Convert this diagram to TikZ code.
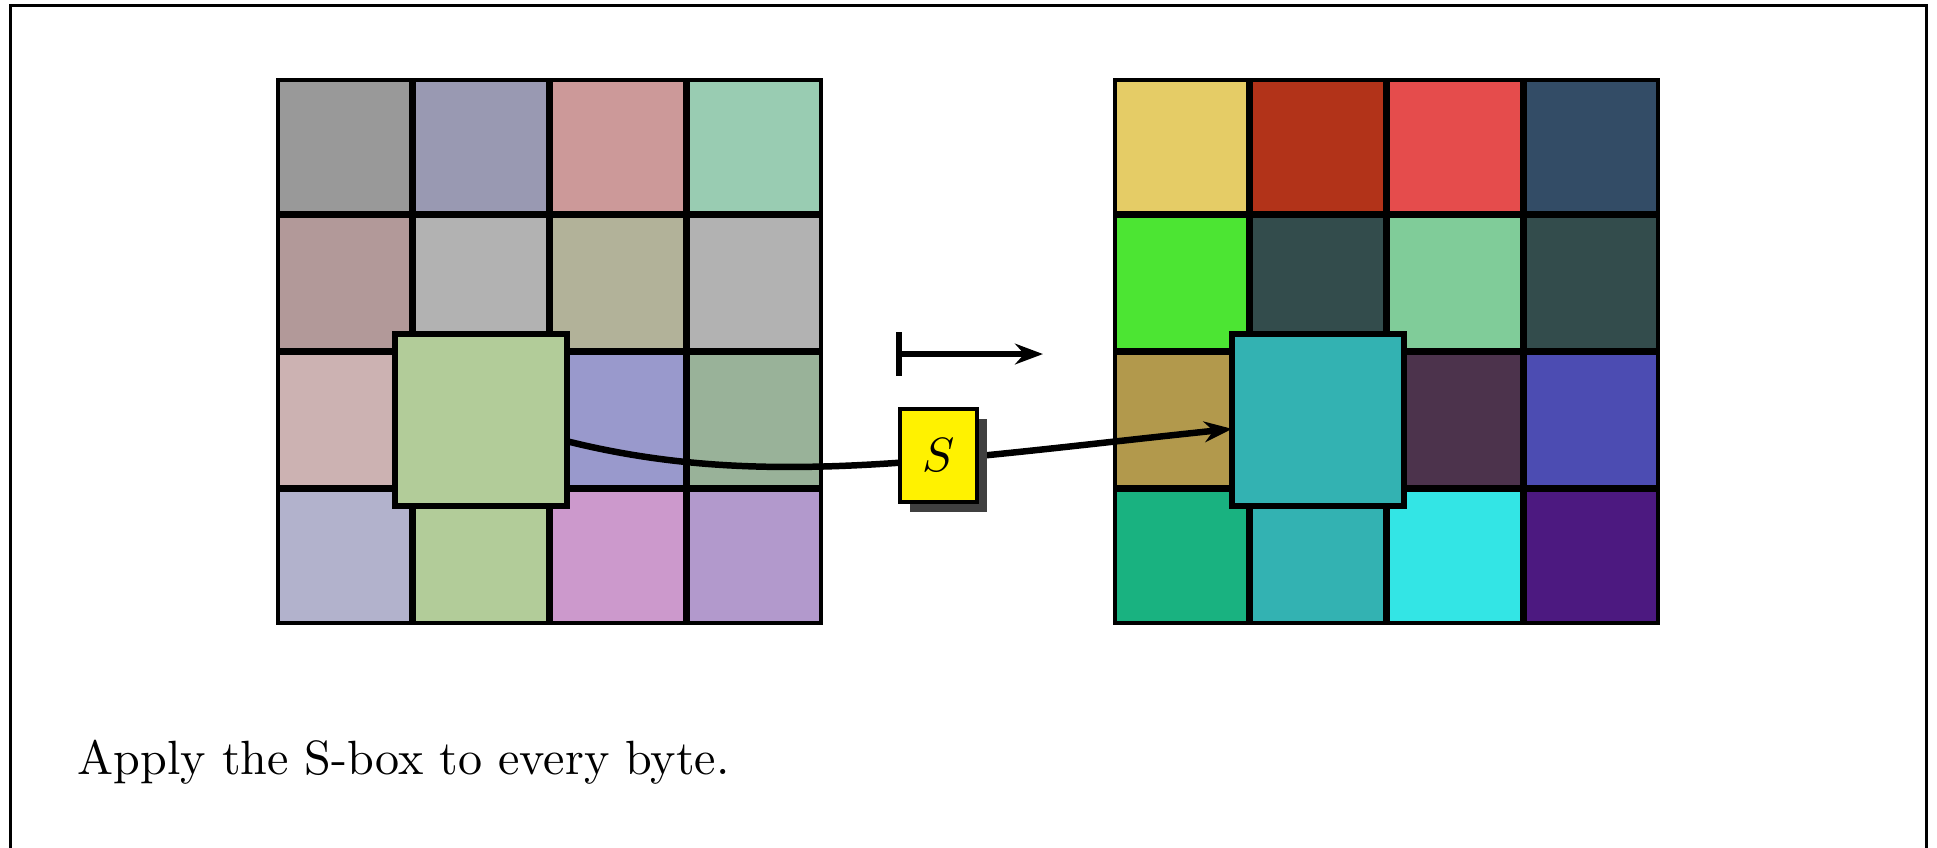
\documentclass[tikz,border=0pt]{standalone}
\usetikzlibrary{arrows.meta,shadows}
% left grid colours
\definecolor{L11}{rgb}{0.6,0.6,0.6}
\definecolor{L12}{rgb}{0.6,0.6,0.7}
\definecolor{L13}{rgb}{0.8,0.6,0.6}
\definecolor{L14}{rgb}{0.6,0.8,0.7}
\definecolor{L21}{rgb}{0.7,0.6,0.6}
\definecolor{L22}{rgb}{0.7,0.7,0.7}
\definecolor{L23}{rgb}{0.7,0.7,0.6}
\definecolor{L24}{rgb}{0.7,0.7,0.7}
\definecolor{L31}{rgb}{0.8,0.7,0.7}
\definecolor{L32}{rgb}{0.7,0.8,0.6}
\definecolor{L33}{rgb}{0.6,0.6,0.8}
\definecolor{L34}{rgb}{0.6,0.7,0.6}
\definecolor{L41}{rgb}{0.7,0.7,0.8}
\definecolor{L42}{rgb}{0.7,0.8,0.6}
\definecolor{L43}{rgb}{0.8,0.6,0.8}
\definecolor{L44}{rgb}{0.7,0.6,0.8}
% right grid colours
\definecolor{R11}{rgb}{0.9,0.8,0.4}
\definecolor{R12}{rgb}{0.7,0.2,0.1}
\definecolor{R13}{rgb}{0.9,0.3,0.3}
\definecolor{R14}{rgb}{0.2,0.3,0.4}
\definecolor{R21}{rgb}{0.3,0.9,0.2}
\definecolor{R22}{rgb}{0.2,0.3,0.3}
\definecolor{R23}{rgb}{0.5,0.8,0.6}
\definecolor{R24}{rgb}{0.2,0.3,0.3}
\definecolor{R31}{rgb}{0.7,0.6,0.3}
\definecolor{R32}{rgb}{0.2,0.7,0.7}
\definecolor{R33}{rgb}{0.3,0.2,0.3}
\definecolor{R34}{rgb}{0.3,0.3,0.7}
\definecolor{R41}{rgb}{0.1,0.7,0.5}
\definecolor{R42}{rgb}{0.2,0.7,0.7}
\definecolor{R43}{rgb}{0.2,0.9,0.9}
\definecolor{R44}{rgb}{0.3,0.1,0.5}
\definecolor{sboxyellow}{rgb}{1,0.95,0}
\tikzset{
  cell/.style={draw=black, line width=0.75pt, minimum size=1cm-0.75pt, inner sep=0pt, outer sep=0pt},
  hilite/.style={draw=black, line width=1.2pt, minimum size=1.3cm-1.2pt, inner sep=0pt, outer sep=0pt},
  sbox/.style={draw=black, line width=0.7pt, fill=sboxyellow, minimum width=0.565cm, minimum height=0.68cm, inner sep=0pt,
    drop shadow={shadow xshift=0.075cm, shadow yshift=-0.075cm, fill=black!75, opacity=1}},
  stip/.style={Stealth[length=5.8pt,width=4.3pt,inset=1.9pt]},
  conn/.style={line width=1.35pt, -{Stealth[length=5.8pt,width=4.3pt,inset=1.9pt]}},
  mapsarrow/.style={line width=1.35pt, {Bar[width=9pt]}-{Stealth[length=5.8pt,width=4.3pt,inset=1.9pt]}},
}
\begin{document}
\begin{tikzpicture}
\useasboundingbox (0,0) rectangle (14.165,6.201);
\draw[line width=0.65pt] (0.077,-0.5) rectangle (14.088,6.161);
\foreach \r in {1,...,4} {
  \foreach \c in {1,...,4} {
    \node[cell, fill=L\r\c] (L\r\c) at ({2.018+\c-0.5},{5.631-\r+0.5}) {};
    \node[cell, fill=R\r\c] (R\r\c) at ({8.139+\c-0.5},{5.631-\r+0.5}) {};
  }
}
\node[hilite, fill=L32] (hl) at (L32.center) {};
\node[hilite, fill=R32] (hr) at (R32.center) {};
\coordinate (ms) at (6.549,3.612);
\coordinate (me) at (7.627,3.612);
\draw[mapsarrow] (ms) -- (me);
\draw[conn] (hl.-14) .. controls +(-14:1.4625) and +(186:2.194) .. (hr.186);
\node[sbox] (S) at (6.863,2.870) {$S$};
\node[anchor=base west, inner sep=0pt] (cap) at (0.563,0.534) {Apply the S-box to every byte.};
\end{tikzpicture}
\end{document}
